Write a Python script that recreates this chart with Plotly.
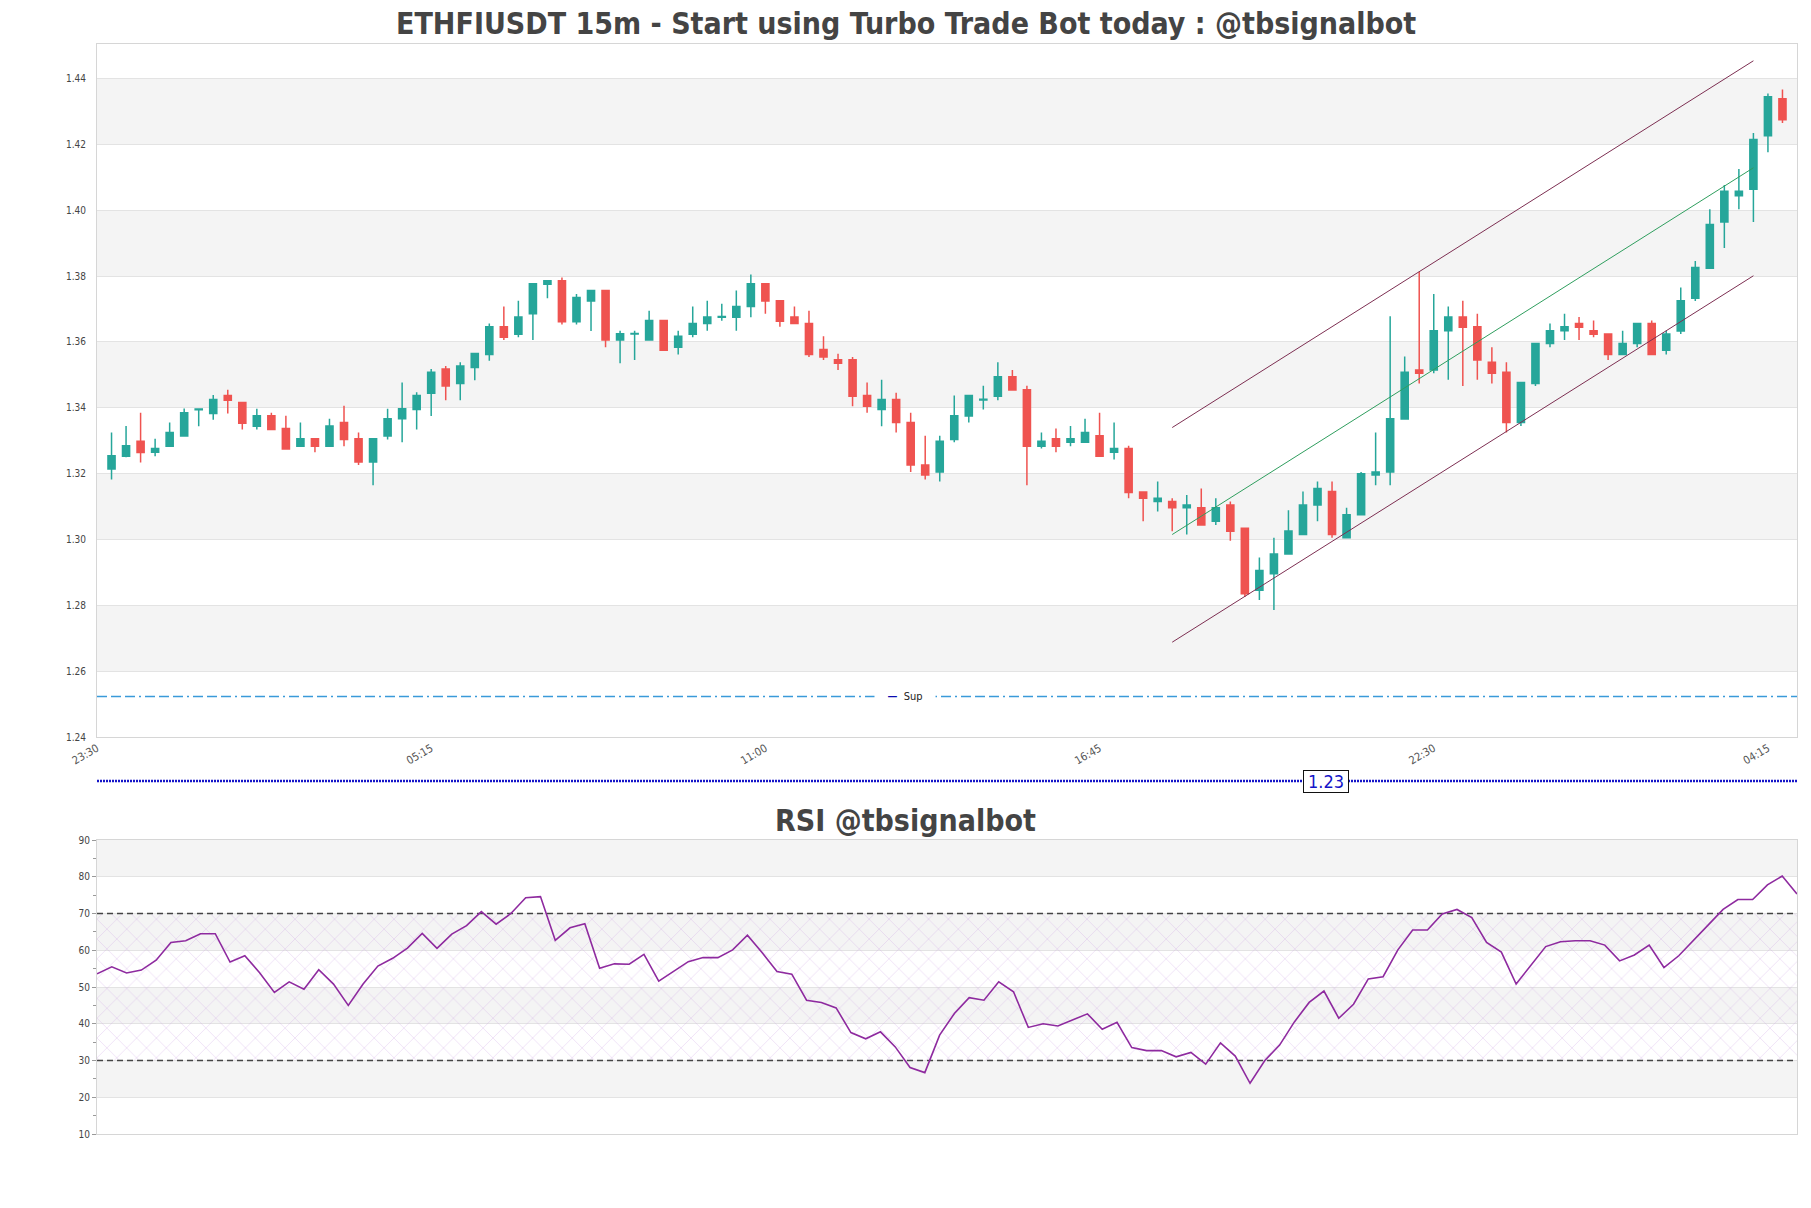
import pandas as pd
import plotly.graph_objects as go

W, H = 1811, 1208

times = pd.date_range("2024-12-09 23:45", periods=116, freq="15min")

opens = [1.3214, 1.3253, 1.3298, 1.3265, 1.3283, 1.3314, 1.3394, 1.3383, 1.3437, 1.3416,
         1.3344, 1.3376, 1.3337, 1.3283, 1.3306, 1.3283, 1.3355, 1.3306, 1.3235, 1.3314,
         1.3367, 1.3395, 1.3444, 1.3518, 1.3474, 1.3522, 1.3562, 1.3646, 1.3623, 1.3686,
         1.3775, 1.3786, 1.3661, 1.3724, 1.3756, 1.3606, 1.3624, 1.3606, 1.3665, 1.3584,
         1.3623, 1.3656, 1.3675, 1.3675, 1.3708, 1.3777, 1.3725, 1.3676, 1.3656, 1.3577,
         1.3546, 1.3546, 1.3437, 1.3395, 1.3425, 1.3355, 1.3226, 1.3205, 1.3304, 1.3375,
         1.3424, 1.3435, 1.3494, 1.3455, 1.3283, 1.3306, 1.3295, 1.3295, 1.3315, 1.3265,
         1.3276, 1.3144, 1.3115, 1.3115, 1.3096, 1.3096, 1.3055, 1.3105, 1.3034, 1.2846,
         1.2896, 1.2956, 1.3015, 1.3105, 1.3146, 1.3005, 1.3075, 1.3196, 1.3205, 1.3366,
         1.3515, 1.3515, 1.3634, 1.3676, 1.3646, 1.3538, 1.3508, 1.3355, 1.3474, 1.3595,
         1.3634, 1.3656, 1.3634, 1.3624, 1.3562, 1.3595, 1.3656, 1.3575, 1.3633, 1.3733,
         1.3824, 1.3964, 1.4044, 1.4064, 1.4226, 1.4339]
highs = [1.3325, 1.3345, 1.3385, 1.3306, 1.3355, 1.3398, 1.3397, 1.3439, 1.3455, 1.3416,
         1.3397, 1.3385, 1.3376, 1.3355, 1.3306, 1.3367, 1.3406, 1.3325, 1.3306, 1.3397,
         1.3477, 1.3447, 1.3518, 1.3527, 1.3538, 1.3565, 1.3656, 1.3708, 1.3725, 1.3777,
         1.3786, 1.3796, 1.3746, 1.3756, 1.3756, 1.3634, 1.3634, 1.3695, 1.3665, 1.3634,
         1.3708, 1.3725, 1.3716, 1.3756, 1.3805, 1.3777, 1.3725, 1.3708, 1.3695, 1.3617,
         1.3564, 1.3554, 1.3477, 1.3485, 1.3446, 1.3385, 1.3315, 1.3315, 1.3437, 1.3437,
         1.3467, 1.3538, 1.3515, 1.3467, 1.3325, 1.3337, 1.3345, 1.3367, 1.3385, 1.3355,
         1.3285, 1.3144, 1.3176, 1.3125, 1.3135, 1.3155, 1.3125, 1.3115, 1.3034, 1.2945,
         1.3005, 1.3089, 1.3146, 1.3176, 1.3176, 1.3096, 1.3205, 1.3325, 1.3678, 1.3556,
         1.3813, 1.3746, 1.3708, 1.3725, 1.3686, 1.3584, 1.3538, 1.3477, 1.3595, 1.3656,
         1.3686, 1.3676, 1.3665, 1.3624, 1.3634, 1.3656, 1.3665, 1.3634, 1.3765, 1.3846,
         1.4003, 1.4077, 1.4125, 1.4235, 1.4355, 1.4367]
lows = [1.3182, 1.3250, 1.3234, 1.3253, 1.3283, 1.3314, 1.3344, 1.3364, 1.3383, 1.3334,
        1.3334, 1.3334, 1.3275, 1.3283, 1.3265, 1.3283, 1.3283, 1.3226, 1.3165, 1.3304,
        1.3295, 1.3334, 1.3375, 1.3423, 1.3423, 1.3484, 1.3543, 1.3606, 1.3614, 1.3606,
        1.3733, 1.3653, 1.3653, 1.3633, 1.3584, 1.3535, 1.3545, 1.3606, 1.3575, 1.3562,
        1.3614, 1.3634, 1.3664, 1.3634, 1.3675, 1.3686, 1.3646, 1.3656, 1.3554, 1.3545,
        1.3515, 1.3405, 1.3385, 1.3344, 1.3325, 1.3205, 1.3182, 1.3176, 1.3295, 1.3355,
        1.3395, 1.3423, 1.3454, 1.3165, 1.3276, 1.3265, 1.3283, 1.3295, 1.3253, 1.3243,
        1.3125, 1.3055, 1.3085, 1.3025, 1.3015, 1.3044, 1.3044, 1.2996, 1.2825, 1.2816,
        1.2786, 1.2956, 1.3015, 1.3055, 1.3005, 1.3005, 1.3075, 1.3165, 1.3165, 1.3366,
        1.3474, 1.3505, 1.3485, 1.3466, 1.3485, 1.3474, 1.3325, 1.3345, 1.3466, 1.3584,
        1.3606, 1.3606, 1.3614, 1.3545, 1.3562, 1.3584, 1.3562, 1.3562, 1.3624, 1.3724,
        1.3824, 1.3885, 1.4003, 1.3964, 1.4176, 1.4265]
closes = [1.3254, 1.3285, 1.3264, 1.3276, 1.3325, 1.3385, 1.3396, 1.3425, 1.3423, 1.3353,
          1.3376, 1.3334, 1.3275, 1.3306, 1.3283, 1.3345, 1.3304, 1.3235, 1.3306, 1.3367,
          1.3397, 1.3437, 1.3508, 1.3466, 1.3527, 1.3565, 1.3646, 1.3614, 1.3676, 1.3777,
          1.3786, 1.3661, 1.3735, 1.3756, 1.3606, 1.3625, 1.3626, 1.3665, 1.3575, 1.3617,
          1.3656, 1.3676, 1.3677, 1.3708, 1.3777, 1.3724, 1.3663, 1.3656, 1.3562, 1.3554,
          1.3535, 1.3435, 1.3405, 1.3425, 1.3355, 1.3226, 1.3196, 1.3298, 1.3376, 1.3437,
          1.3426, 1.3494, 1.3454, 1.3283, 1.3298, 1.3283, 1.3306, 1.3325, 1.3253, 1.3276,
          1.3143, 1.3125, 1.3125, 1.3096, 1.3105, 1.3044, 1.3096, 1.3025, 1.2835, 1.2906,
          1.2956, 1.3026, 1.3105, 1.3155, 1.3015, 1.3075, 1.3200, 1.3205, 1.3367, 1.3508,
          1.3505, 1.3634, 1.3676, 1.3645, 1.3545, 1.3505, 1.3355, 1.3477, 1.3595, 1.3634,
          1.3646, 1.3645, 1.3623, 1.3562, 1.3595, 1.3656, 1.3562, 1.3624, 1.3725, 1.3826,
          1.3957, 1.4058, 1.4058, 1.4215, 1.4345, 1.4275]

rsi = [53.6, 55.5, 53.8, 54.6, 57.3, 62.1, 62.6, 64.5, 64.5, 56.8,
       58.5, 53.9, 48.5, 51.4, 49.4, 54.7, 50.8, 45.0, 50.8, 55.7,
       57.8, 60.6, 64.6, 60.5, 64.4, 66.7, 70.5, 67.1, 70.0, 74.3,
       74.6, 62.7, 66.1, 67.2, 55.1, 56.3, 56.2, 58.9, 51.6, 54.3,
       56.9, 58.0, 58.0, 60.1, 64.1, 59.3, 54.2, 53.5, 46.4, 45.8,
       44.3, 37.6, 35.9, 37.8, 33.7, 28.1, 26.7, 36.9, 42.8, 47.1,
       46.4, 51.4, 48.7, 39.0, 40.0, 39.4, 41.0, 42.7, 38.5, 40.4,
       33.5, 32.7, 32.7, 31.0, 32.2, 29.0, 34.8, 31.2, 23.8, 30.0,
       34.2, 40.5, 45.8, 48.9, 41.5, 45.3, 52.2, 52.8, 60.1, 65.5,
       65.5, 69.9, 71.1, 68.9, 62.1, 59.5, 50.8, 56.0, 61.0, 62.3,
       62.6, 62.6, 61.4, 57.1, 58.7, 61.4, 55.3, 58.5, 62.8, 66.9,
       71.1, 73.8, 73.8, 77.8, 80.2, 75.3]

# regression channel (candle index of start / end)
chan_idx = [73, 113]
chan_upper = [1.3340, 1.4454]
chan_mid = [1.3015, 1.4129]
chan_lower = [1.2688, 1.3801]

support_level = 1.2523
support_name = "Sup"
level_value_text = "1.23"

x_tick_times = ["2024-12-09 23:30", "2024-12-10 05:15", "2024-12-10 11:00",
                "2024-12-10 16:45", "2024-12-10 22:30", "2024-12-11 04:15"]
x_tick_labels = ["23:30", "05:15", "11:00", "16:45", "22:30", "04:15"]
price_ticks = [1.24, 1.26, 1.28, 1.30, 1.32, 1.34, 1.36, 1.38, 1.40, 1.42, 1.44]
rsi_ticks = [10, 20, 30, 40, 50, 60, 70, 80, 90]

title_main = "ETHFIUSDT 15m - Start using Turbo Trade Bot today : @tbsignalbot"
title_rsi = "RSI @tbsignalbot"

FONT = "DejaVu Sans Condensed, DejaVu Sans, sans-serif"
GREEN = "#26a69a"
RED = "#ef5350"
BAND = "#f4f4f4"
GRID = "#e3e3e3"

x0d, x1d = 97 / W, 1797 / W
main_dom = [1 - 737 / H, 1 - 44 / H]
rsi_dom = [1 - 1134 / H, 1 - 840 / H]

fig = go.Figure()

fig.add_trace(go.Candlestick(
    x=times, open=opens, high=highs, low=lows, close=closes,
    increasing=dict(line=dict(color=GREEN, width=1.5), fillcolor=GREEN),
    decreasing=dict(line=dict(color=RED, width=1.5), fillcolor=RED),
    whiskerwidth=0, xaxis="x", yaxis="y", showlegend=False, hoverinfo="skip"))

cx = [times[i] for i in chan_idx]
for ys, col in [(chan_upper, "#7d2f52"), (chan_lower, "#7d2f52"), (chan_mid, "#2f9e5e")]:
    fig.add_trace(go.Scatter(x=cx, y=ys, mode="lines", line=dict(color=col, width=1),
                             xaxis="x", yaxis="y", showlegend=False, hoverinfo="skip"))

# support line
fig.add_trace(go.Scatter(x=[pd.Timestamp("2024-12-09 23:30"), pd.Timestamp("2024-12-11 04:45")],
                         y=[support_level, support_level], mode="lines",
                         line=dict(color="#3a9ad9", width=1.3,
                                   dash="10px,4px,10px,4px,10px,4px,2px,4px"),
                         xaxis="x", yaxis="y", showlegend=False, hoverinfo="skip"))

# RSI hatch zone
fig.add_trace(go.Scatter(x=[times[0], times[-1], times[-1], times[0], times[0]],
                         y=[30, 30, 70, 70, 30], mode="lines", fill="toself",
                         fillcolor="rgba(0,0,0,0)", line=dict(width=0),
                         fillpattern=dict(shape="x", fgcolor="rgba(200,150,225,0.75)",
                                          bgcolor="rgba(0,0,0,0)", size=14, solidity=0.1),
                         xaxis="x2", yaxis="y2", showlegend=False, hoverinfo="skip"))
for lvl in [70, 30]:
    fig.add_trace(go.Scatter(x=[times[0], times[-1]], y=[lvl, lvl], mode="lines",
                             line=dict(color="#444444", width=1.3, dash="6px,4px"),
                             xaxis="x2", yaxis="y2", showlegend=False, hoverinfo="skip"))
fig.add_trace(go.Scatter(x=times, y=rsi, mode="lines", line=dict(color="#8e2a9f", width=1.6),
                         xaxis="x2", yaxis="y2", showlegend=False, hoverinfo="skip"))

shapes = []
for lo in [1.26, 1.30, 1.34, 1.38, 1.42]:
    shapes.append(dict(type="rect", xref="x domain", yref="y", x0=0, x1=1, y0=lo, y1=lo + 0.02,
                       fillcolor=BAND, line=dict(width=0), layer="below"))
for lo in [20, 40, 60, 80]:
    shapes.append(dict(type="rect", xref="x2 domain", yref="y2", x0=0, x1=1, y0=lo, y1=lo + 10,
                       fillcolor=BAND, line=dict(width=0), layer="below"))
# level band line between panels
ly = 1 - 781 / H
shapes.append(dict(type="line", xref="paper", yref="paper", x0=x0d, x1=x1d, y0=ly, y1=ly,
                   line=dict(color="#1414c8", width=2.5, dash="2px,1px")))

annotations = [
    dict(text="<b>" + title_main + "</b>", x=0.5, y=1 - 23 / H, xref="paper", yref="paper",
         showarrow=False, font=dict(family=FONT, size=30, color="#444444"), xanchor="center", yanchor="middle"),
    dict(text="<b>" + title_rsi + "</b>", x=0.5, y=1 - 820 / H, xref="paper", yref="paper",
         showarrow=False, font=dict(family=FONT, size=30, color="#444444"), xanchor="center", yanchor="middle"),
    dict(text="<span style='color:#0b0bb0'><b>—</b></span>  " + support_name,
         x=905 / W, y=support_level, xref="paper", yref="y", showarrow=False,
         font=dict(family=FONT, size=11, color="#222222"), bgcolor="white", width=58,
         xanchor="center", yanchor="middle"),
    dict(text=level_value_text, x=1326 / W, y=ly, xref="paper", yref="paper", showarrow=False,
         font=dict(family=FONT, size=18, color="#1414c8"), bgcolor="white", bordercolor="#111111",
         borderwidth=1, borderpad=0, width=44, xanchor="center", yanchor="middle"),
]

fig.update_layout(
    width=W, height=H, autosize=False, margin=dict(l=0, r=0, t=0, b=0, autoexpand=False),
    paper_bgcolor="white", plot_bgcolor="white", showlegend=False,
    font=dict(family=FONT, size=10, color="#444444"),
    xaxis=dict(domain=[x0d, x1d], anchor="y", type="date", automargin=False,
               range=["2024-12-09 23:30", "2024-12-11 04:45"],
               tickvals=x_tick_times, ticktext=x_tick_labels, tickangle=-30,
               tickfont=dict(size=11, color="#555555"), showgrid=False,
               showline=True, linecolor="#d6d6d6", mirror=True, ticks="",
               rangeslider=dict(visible=False), fixedrange=True),
    yaxis=dict(domain=main_dom, anchor="x", range=[1.24, 1.4505], automargin=False,
               tickvals=price_ticks, tickformat=".2f", showgrid=True, gridcolor=GRID,
               tickfont=dict(size=10, color="#444444"), showline=True, linecolor="#d6d6d6",
               mirror=True, ticks="", zeroline=False, ticklabelstandoff=8),
    xaxis2=dict(domain=[x0d, x1d], anchor="y2", type="date", range=[times[0], times[-1]],
                automargin=False, showticklabels=False, showgrid=False, showline=True,
                linecolor="#d6d6d6", mirror=True, ticks=""),
    yaxis2=dict(domain=rsi_dom, anchor="x2", range=[10, 90], tickvals=rsi_ticks, automargin=False,
                showgrid=True, gridcolor=GRID, tickfont=dict(size=10, color="#444444"),
                showline=True, linecolor="#d6d6d6", mirror=True, zeroline=False,
                ticks="outside", ticklen=4, tickcolor="#999999",
                minor=dict(dtick=5, tick0=5, ticks="outside", ticklen=3, tickcolor="#999999", showgrid=False)),
    shapes=shapes, annotations=annotations,
)

fig.write_html("out.html")
